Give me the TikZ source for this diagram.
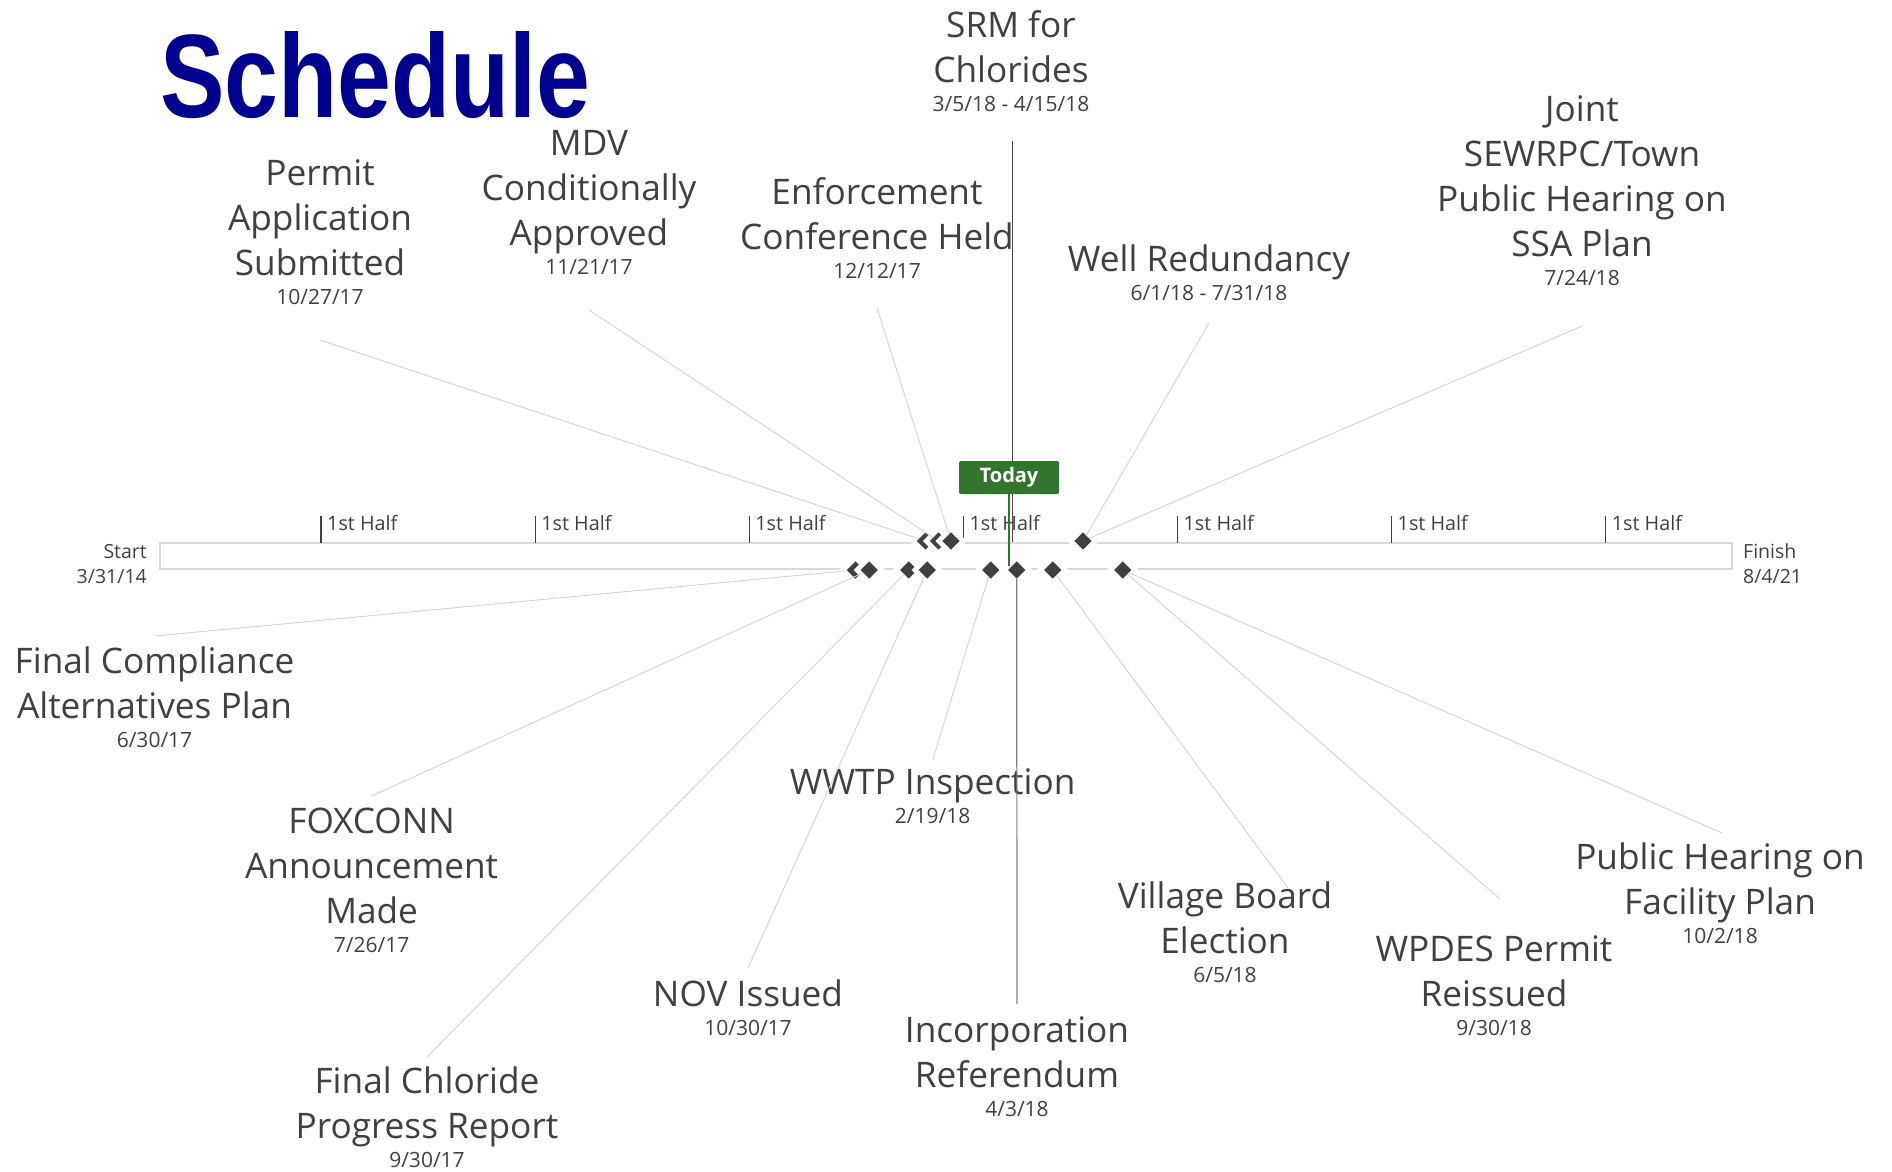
\documentclass[tikz,border=0pt]{standalone}
\usepackage{graphicx}
\usepackage{fontspec}
\setmainfont{Open Sans}
\newfontfamily\headfont{Liberation Sans}
\usetikzlibrary{shapes.geometric}

\definecolor{txt}{RGB}{64,64,64}
\definecolor{conng}{RGB}{212,212,212}
\definecolor{barg}{RGB}{217,217,217}
\definecolor{mk}{RGB}{64,64,64}
\definecolor{todayg}{RGB}{50,118,46}
\definecolor{headblue}{RGB}{0,0,142}
\definecolor{midg}{RGB}{128,128,128}
\definecolor{srmg}{RGB}{72,72,72}

\newcommand\dfont{\fontsize{21}{25}\selectfont}
\newcommand\dt[1]{\\[-16pt]{\dfont #1}}

\tikzset{
  lbl/.style={align=center, inner sep=0pt, text=txt, anchor=base,
              font=\fontsize{35.2}{45}\selectfont, yshift=-1pt},
  conn/.style={draw=conng, line width=0.9pt},
  ms/.style={shape=diamond, fill=mk, minimum width=17.5pt, minimum height=17.5pt,
             inner sep=0pt, preaction={draw=white, line width=10pt}},
  tick/.style={draw=txt, line width=1.2pt},
  ticklbl/.style={anchor=base west, inner sep=0pt, text=txt,
                  font=\fontsize{19.8}{25}\selectfont},
  endlbl/.style={inner sep=0pt, text=txt, font=\fontsize{19.5}{25}\selectfont},
  todaybox/.style={fill=todayg, rounded corners=2pt, minimum width=100pt,
                   minimum height=33pt, inner sep=0pt, text=white,
                   font=\fontsize{20}{24}\selectfont\bfseries}
}

\begin{document}
\begin{tikzpicture}[x=1pt, y=-1pt]
\useasboundingbox (0,0) rectangle (1892,1172);

% title
\node[anchor=base west, inner sep=0pt, text=headblue,
      font=\headfont\bfseries\fontsize{118.7}{120}\selectfont] (title) at (160,117)
      {\scalebox{0.815}[1]{Schedule}};

% timeline bar
\draw[draw=barg, fill=white, line width=1.3pt] (160,543) rectangle (1732,569);

% half-year ticks
\foreach \i [evaluate=\i as \tx using 321+214.1*\i] in {0,...,6} {
  \draw[tick] (\tx,516) -- (\tx,543);
  \node[ticklbl] (tk\i) at (\tx+6,530) {1st Half};
}

% start / finish
\node[endlbl, align=right, anchor=base east] (start) at (147,583) {Start\\3/31/14};
\node[endlbl, align=left, anchor=base west] (finish) at (1743,583) {Finish\\8/4/21};

% line from the SRM label down to the bar
\coordinate (cSRM) at (1012,141);
\coordinate (bSRM) at (1012,542);
\draw[draw=srmg, line width=1pt] (cSRM) -- (bSRM);

% milestones above the bar
\node[ms] (dU1) at (925.5,541) {};
\node[ms] (dU2) at (938.5,541) {};
\node[ms] (dU3) at (951,541) {};
\node[ms] (dU4) at (1083,541) {};

% milestones below the bar
\node[ms] (dL1) at (855.4,570) {};
\node[ms] (dL2) at (869.3,570) {};
\node[ms] (dL3) at (908.7,570) {};
\node[ms] (dL4) at (927.3,570) {};
\node[ms] (dL5) at (990.7,570) {};
\node[ms] (dL6) at (1016.7,570) {};
\node[ms] (dL7) at (1052.7,570) {};
\node[ms] (dL8) at (1122.7,570) {};

% today marker
\node[todaybox] (today) at (1009,477.5) {Today};
\coordinate (todayEnd) at (1009,566);
\draw[draw=todayg, line width=1.3pt] (today.south) -- (todayEnd);

% labels above
\node[lbl] (permit) at (320,303) {Permit\\Application\\Submitted\dt{10/27/17}};
\node[lbl] (mdv) at (589,273) {MDV\\Conditionally\\Approved\dt{11/21/17}};
\node[lbl] (enf) at (877,277) {Enforcement\\Conference Held\dt{12/12/17}};
\node[lbl] (srm) at (1011,110) {SRM for\\Chlorides\dt{3/5/18 - 4/15/18}};
\node[lbl] (well) at (1209,299) {Well Redundancy\dt{6/1/18 - 7/31/18}};
\node[lbl] (joint) at (1582,284) {Joint\\SEWRPC/Town\\Public Hearing on\\SSA Plan\dt{7/24/18}};

% labels below
\node[lbl] (fcap) at (154.5,746) {Final Compliance\\Alternatives Plan\dt{6/30/17}};
\node[lbl] (fox) at (371.6,951) {FOXCONN\\Announcement\\Made\dt{7/26/17}};
\node[lbl] (fcpr) at (427,1166) {Final Chloride\\Progress Report\dt{9/30/17}};
\node[lbl] (nov) at (748,1034) {NOV Issued\dt{10/30/17}};
\node[lbl] (wwtp) at (932.7,822) {WWTP Inspection\dt{2/19/18}};
\node[lbl] (inc) at (1017,1115) {Incorporation\\Referendum\dt{4/3/18}};
\node[lbl] (vbe) at (1225,981) {Village Board\\Election\dt{6/5/18}};
\node[lbl] (wpdes) at (1494,1034) {WPDES Permit\\Reissued\dt{9/30/18}};
\node[lbl] (phfp) at (1720,942) {Public Hearing on\\Facility Plan\dt{10/2/18}};

% connector ends at the labels
\coordinate (cPermit) at (320,340);
\coordinate (cMdv) at (589,310);
\coordinate (cEnf) at (877,308);
\coordinate (cWell) at (1209,323);
\coordinate (cJoint) at (1582,326);
\coordinate (cFcap) at (155,636);
\coordinate (cFox) at (371.6,796);
\coordinate (cFcpr) at (427,1057);
\coordinate (cNov) at (748,968);
\coordinate (cWwtp) at (932.7,760);
\coordinate (cInc) at (1017,1004);
\coordinate (cVbe) at (1288,888);
\coordinate (cWpdes) at (1500,899);
\coordinate (cPhfp) at (1722,833);

% connectors
\draw[conn] (cPermit) -- (dU1);
\draw[conn] (cMdv) -- (dU2);
\draw[conn] (cEnf) -- (dU3);
\draw[conn] (cWell) -- (dU4);
\draw[conn] (cJoint) -- (dU4);
\draw[conn] (cFcap) -- (dL1);
\draw[conn] (cFox) -- (dL2);
\draw[conn] (cFcpr) -- (dL3);
\draw[conn] (cNov) -- (dL4);
\draw[conn] (cWwtp) -- (dL5);
\draw[draw=midg, line width=1.2pt] (cInc) -- (dL6);
\draw[conn] (cVbe) -- (dL7);
\draw[conn] (cWpdes) -- (dL8);
\draw[conn] (cPhfp) -- (dL8);
\end{tikzpicture}
\end{document}
